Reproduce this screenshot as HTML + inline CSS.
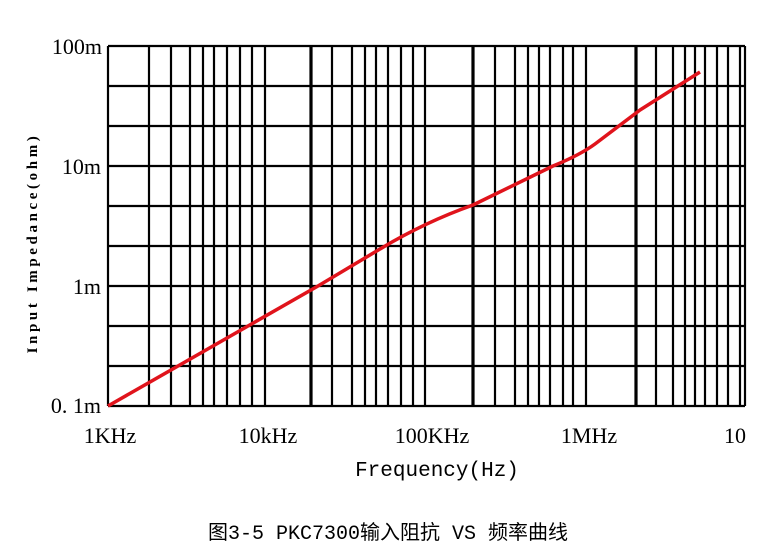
<!DOCTYPE html>
<html><head><meta charset="utf-8"><style>
body{margin:0;background:#fff;}
svg{display:block}
</style></head><body>
<svg width="760" height="559" xmlns="http://www.w3.org/2000/svg">
<rect width="760" height="559" fill="#fff"/>
<g stroke="#000" stroke-width="2.2" fill="none">
<path d="M108 46H745M108 86H745M108 126H745M108 166H745M108 206H745M108 246H745M108 286H745M108 326H745M108 366H745M108 406H745"/>
<path d="M108 46V406M745 46V406
M149 46V406M171 46V406M190 46V406M203 46V406M214 46V406M227 46V406M240 46V406M252 46V406M265 46V406
M332 46V406M352 46V406M365 46V406M376 46V406M388 46V406M401 46V406M413 46V406M425 46V406
M495 46V406M515 46V406M528 46V406M539 46V406M550 46V406M563 46V406M573 46V406M586 46V406
M656 46V406M673 46V406M685 46V406M695 46V406M705 46V406M717 46V406M728 46V406M740 46V406"/>
<path stroke-width="3.2" d="M311 46V406M473 46V406M636 46V406"/>
</g>
<path fill="none" stroke="#e0141c" stroke-width="3.5" stroke-linejoin="round" d="M108,406 L318,286 L380,249 Q425,222 473,205 L553,166 Q580,155 595,144 L640,110 L700,72"/>
<g font-family="Liberation Serif, serif" font-size="22" fill="#000" text-anchor="end">
<text x="102" y="54">100m</text>
<text x="101" y="174">10m</text>
<text x="101" y="294">1m</text>
<text x="101" y="413">0. 1m</text>
</g>
<g font-family="Liberation Serif, serif" font-size="22" fill="#000" text-anchor="middle">
<text x="110" y="443">1KHz</text>
<text x="268" y="443">10kHz</text>
<text x="432" y="443">100KHz</text>
<text x="589" y="443">1MHz</text>
<text x="735" y="443">10</text>
</g>
<text x="437" y="476" font-family="Liberation Mono, monospace" font-size="21" text-anchor="middle" fill="#000">Frequency(Hz)</text>
<text transform="translate(37,243) rotate(-90)" font-family="Liberation Serif, serif" font-size="15" font-weight="bold" letter-spacing="3.6" text-anchor="middle" fill="#000">Input  Impedance(ohm)</text>
<text x="388" y="539" font-family="Liberation Mono, 'Noto Sans CJK SC', monospace" font-size="20" text-anchor="middle" fill="#000">图3-5 PKC7300输入阻抗 VS 频率曲线</text>
</svg>
</body></html>
